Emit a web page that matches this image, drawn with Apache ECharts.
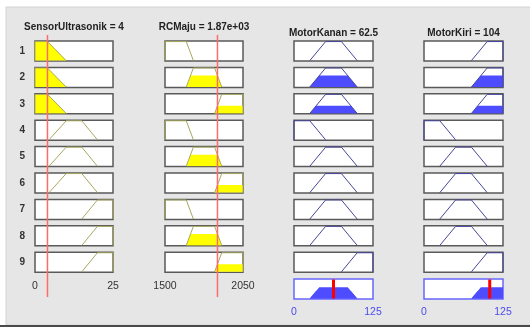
<!DOCTYPE html>
<html><head><meta charset="utf-8">
<script src="https://cdn.jsdelivr.net/npm/echarts@6/dist/echarts.min.js"></script>
<style>html,body{margin:0;padding:0;background:#fff}#c{width:530px;height:327px}</style>
</head><body><div id="c"></div>
<script>
// ---- data ----
const titles = ['SensorUltrasonik = 4', 'RCMaju = 1.87e+03', 'MotorKanan = 62.5', 'MotorKiri = 104'];
const rowLabels = ['1','2','3','4','5','6','7','8','9'];
const sensorRange = [0, 25];
const rcRange = [1500, 2050];
const motorRange = [0, 125];
const sensorMF = { dekat: [0, 0, 4, 10], sedang: [4.5, 10, 15, 20], jauh: [15, 20, 25, 25] };
const rcMF = { lambat: [1500, 1500, 1650, 1700], sedang: [1650, 1700, 1850, 1900], cepat: [1850, 1900, 2050, 2050] };
const motorMF = { lambat: [0, 0, 25, 50], sedang: [25, 50, 75, 100], cepat: [75, 100, 125, 125] };
const ruleSensor = ['dekat','dekat','dekat','sedang','sedang','sedang','jauh','jauh','jauh'];
const ruleRC     = ['lambat','sedang','cepat','lambat','sedang','cepat','lambat','sedang','cepat'];
const ruleKanan  = ['sedang','sedang','sedang','lambat','sedang','sedang','sedang','sedang','cepat'];
const ruleKiri   = ['cepat','cepat','cepat','lambat','sedang','sedang','sedang','sedang','cepat'];
const sensorDegree = [1, 1, 1, 0, 0, 0, 0, 0, 0];
const rcDegree     = [0, 0.6, 0.4, 0, 0.6, 0.4, 0, 0.6, 0.4];
const ruleFiring   = [0, 0.6, 0.4, 0, 0, 0, 0, 0, 0];
const inputValues  = [4, 1870];
const outputValues = [62.5, 104];

// ---- layout ----
const colLeft = [35, 165, 294, 424];
const colWidth = [78, 78, 79, 79];
const rowTop0 = 41, rowPitch = 26.4, boxH = 20, outTop = 279;
const titleTop = [22, 22, 28, 28];

const ranges = [sensorRange, rcRange, motorRange, motorRange];
const mfSets = [sensorMF, rcMF, motorMF, motorMF];
const ruleCols = [ruleSensor, ruleRC, ruleKanan, ruleKiri];
const fillLevels = [sensorDegree, rcDegree, ruleFiring, ruleFiring];

function outline(p) { return [[p[0],0],[p[1],1],[p[2],1],[p[3],0]]; }
function clipped(p, h) {
  return [[p[0],0],[p[0]+(p[1]-p[0])*h,h],[p[3]-(p[3]-p[2])*h,h],[p[3],0]];
}

const grid = [], xAxis = [], yAxis = [], series = [];
const font = 'Liberation Sans, Arial, sans-serif';
const plain = v => String(v);

function addGrid(g, xa, ya) {
  const i = grid.length;
  grid.push(g);
  xa.gridIndex = i; ya.gridIndex = i;
  xAxis.push(xa); yAxis.push(ya);
  return i;
}
function baseX(range) {
  return { type: 'value', min: range[0], max: range[1], axisLine: {show:false}, axisTick:{show:false}, splitLine:{show:false}, axisLabel:{show:false} };
}
function baseY(name) {
  const y = { type: 'value', min: -0.02, max: 1.03, axisLine:{show:false}, axisTick:{show:false}, splitLine:{show:false}, axisLabel:{show:false} };
  if (name) {
    y.name = name; y.nameLocation = 'middle'; y.nameRotate = 0; y.nameGap = 10;
    y.nameTextStyle = { fontFamily: font, fontSize: 10, fontWeight: 'bold', color: '#333' };
  }
  return y;
}

for (let c = 0; c < 4; c++) {
  const isOut = c >= 2;
  const lineCol = isOut ? '#46469a' : '#a8a860';
  const fillCol = isOut ? '#4d4dff' : '#ffff00';
  for (let r = 0; r < 9; r++) {
    const xa = baseX(ranges[c]);
    if (r === 8 && !isOut) {
      xa.axisLabel = { show: true, customValues: ranges[c].slice(), formatter: plain, margin: 8, fontFamily: font, fontSize: 10.5, color: '#333' };
    }
    const gi = addGrid({ left: colLeft[c], top: rowTop0 + r * rowPitch, width: colWidth[c], height: boxH,
      show: true, backgroundColor: '#fff', borderColor: '#5a5a5a', borderWidth: 1.5 },
      xa, baseY(c === 0 ? rowLabels[r] : null));
    const p = mfSets[c][ruleCols[c][r]];
    const h = fillLevels[c][r];
    if (h > 0) {
      series.push({ type: 'line', xAxisIndex: gi, yAxisIndex: gi, data: clipped(p, h), symbol: 'none', silent: true,
        lineStyle: { width: 0 }, areaStyle: { color: fillCol, opacity: 1 }, z: 2 });
    }
    series.push({ type: 'line', xAxisIndex: gi, yAxisIndex: gi, data: outline(p), symbol: 'none', silent: true,
      lineStyle: { width: 1, color: lineCol }, z: 3 });
  }
  if (isOut) {
    const o = c - 2;
    const xa = baseX(ranges[c]);
    xa.axisLabel = { show: true, customValues: ranges[c].slice(), formatter: plain, margin: 8, fontFamily: font, fontSize: 10.5, color: '#4b4bf0' };
    const gi = addGrid({ left: colLeft[c], top: outTop, width: colWidth[c], height: boxH,
      show: true, backgroundColor: '#fff', borderColor: '#6767ff', borderWidth: 1.5 }, xa, baseY(null));
    const rules = ruleCols[c];
    for (let r = 0; r < 9; r++) {
      if (ruleFiring[r] > 0) {
        series.push({ type: 'line', xAxisIndex: gi, yAxisIndex: gi, data: clipped(mfSets[c][rules[r]], ruleFiring[r]), symbol: 'none', silent: true,
          lineStyle: { width: 0 }, areaStyle: { color: '#4d4dff', opacity: 1 }, z: 2 });
      }
    }
    series.push({ type: 'line', xAxisIndex: gi, yAxisIndex: gi, data: [[outputValues[o], 0], [outputValues[o], 1]], symbol: 'none', silent: true,
      lineStyle: { width: 3, color: '#ff0000' }, z: 6 });
  } else {
    // overlay grid for the red input line
    const gi = addGrid({ left: colLeft[c], top: 35, width: colWidth[c], height: 262, show: false },
      baseX(ranges[c]), { type: 'value', min: 0, max: 1, show: false });
    series.push({ type: 'line', xAxisIndex: gi, yAxisIndex: gi, data: [[inputValues[c], 0], [inputValues[c], 1]], symbol: 'none', silent: true,
      color: '#ff6a6a', lineStyle: { width: 1.5, color: '#ff6a6a', opacity: 1 }, z: 6 });
  }
}

const title = titles.map((t, c) => ({
  text: t, left: colLeft[c] + colWidth[c] / 2, top: titleTop[c], textAlign: 'center', padding: 0,
  textStyle: { fontFamily: font, fontSize: 10, fontWeight: 'bold', color: '#222' }
}));

const chart = echarts.init(document.getElementById('c'), null, { renderer: 'canvas' });
chart.setOption({
  animation: false,
  backgroundColor: '#ffffff',
  graphic: [
    { type: 'rect', shape: { x: 6, y: 7, width: 530, height: 318 }, style: { fill: '#e6e6e6', stroke: '#d2d2d2', lineWidth: 1 }, z: -10, silent: true },
    { type: 'rect', shape: { x: 0, y: 325, width: 530, height: 2 }, style: { fill: '#4a4a4a' }, z: -9, silent: true }
  ],
  title, grid, xAxis, yAxis, series
});
</script></body></html>
